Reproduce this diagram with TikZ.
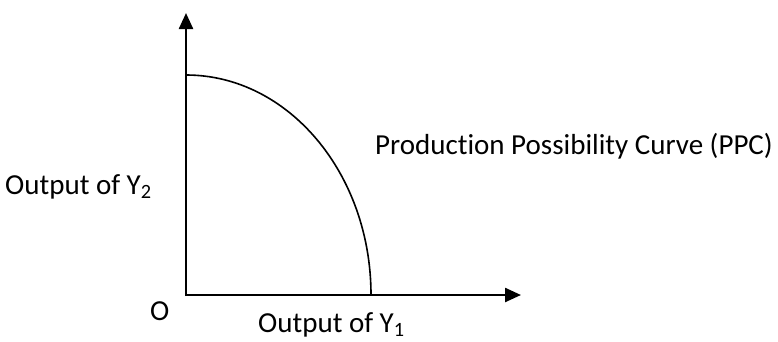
\documentclass[tikz,border=0pt]{standalone}
\usepackage{fontspec}
\setmainfont{Carlito}[Ligatures={NoCommon}]
\usetikzlibrary{arrows.meta}
\tikzset{
  axis/.style={line width=2.4pt, -{Triangle[length=16pt,width=14pt]}},
  ppc/.style={line width=1.6pt},
  lbl/.style={inner sep=0pt, anchor=base west, font=\fontsize{29}{34}\selectfont}
}
\begin{document}
\begin{tikzpicture}[x=1pt,y=1pt]
\useasboundingbox (0,0) rectangle (778,341);
\coordinate (O) at (186,45);
\coordinate (ytip) at (186,328);
\coordinate (xtip) at (521,46);
\coordinate (ytop) at (186,266);
\coordinate (xend) at (371,46);
\draw[axis] (O) -- (ytip);
\draw[axis] (185,46) -- (xtip);
\draw[ppc] (ytop) arc[start angle=90, end angle=0, x radius=185, y radius=220];
\node[lbl] (ppclabel) at (375,187) {Production Possibility Curve (PPC)};
\node[lbl] (ylabel) at (5,147) {Output of Y\textsubscript{2}};
\node[lbl] (olabel) at (150,21) {O};
\node[lbl] (xlabel) at (258,9) {Output of Y\textsubscript{1}};
\end{tikzpicture}
\end{document}
